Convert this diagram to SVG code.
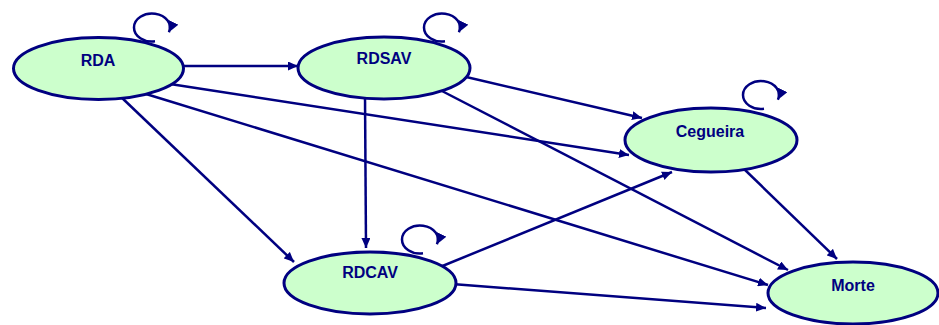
<svg xmlns="http://www.w3.org/2000/svg" width="939" height="325" viewBox="0 0 939 325">
  <style>
    .node { fill: #ccffcc; stroke: #000080; stroke-width: 3; }
    .label { font-family: "Liberation Sans", Arial, sans-serif; font-weight: bold; font-size: 16px; fill: #000080; text-anchor: middle; }
    .edge { fill: none; stroke: #000080; stroke-width: 2.5; marker-end: url(#arrow); }
    .loop { fill: none; stroke: #000080; stroke-width: 2.5; marker-end: url(#loop-arrow); }
  </style>
  <defs>
    <marker id="arrow" markerUnits="userSpaceOnUse" markerWidth="11" markerHeight="9" refX="10" refY="4.5" orient="auto">
      <path d="M0,0 L10,4.5 L0,9 z" fill="#000080"/>
    </marker>
    <marker id="loop-arrow" markerUnits="userSpaceOnUse" markerWidth="12" markerHeight="11" refX="11" refY="5.5" orient="auto">
      <path d="M0,0 L11,5.5 L0,11 z" fill="#000080"/>
    </marker>
  </defs>
  <rect width="939" height="325" fill="#ffffff"/>

  <!-- transitions between states -->
  <g id="connectors">
    <line class="edge" x1="180" y1="66" x2="298" y2="66"/>
    <line class="edge" x1="170" y1="84" x2="629" y2="155"/>
    <line class="edge" x1="146" y1="94" x2="768" y2="285"/>
    <line class="edge" x1="120" y1="96" x2="294" y2="262"/>
    <line class="edge" x1="462" y1="76" x2="642" y2="118"/>
    <line class="edge" x1="440" y1="90" x2="788" y2="270"/>
    <line class="edge" x1="365" y1="96" x2="366" y2="248"/>
    <line class="edge" x1="440" y1="267" x2="672" y2="172"/>
    <line class="edge" x1="452" y1="284" x2="766" y2="308"/>
    <line class="edge" x1="743" y1="168" x2="837" y2="259"/>
    <!-- self-loops -->
    <path class="loop" d="M155,41.3 A18,14 0 1 1 168.9,32.3"/>
    <path class="loop" d="M445,41.3 A18,14 0 1 1 458.9,32.3"/>
    <path class="loop" d="M764,108.8 A18,14 0 1 1 777.9,99.8"/>
    <path class="loop" d="M423,253.3 A18,14 0 1 1 436.9,244.3"/>
  </g>

  <g id="RDA">
    <ellipse class="node" cx="98.5" cy="68.5" rx="85" ry="31"/>
    <text class="label" x="98" y="66">RDA</text>
  </g>
  <g id="RDSAV">
    <ellipse class="node" cx="384" cy="68" rx="86" ry="31"/>
    <text class="label" x="384" y="64">RDSAV</text>
  </g>
  <g id="Cegueira">
    <ellipse class="node" cx="711" cy="140" rx="86" ry="32"/>
    <text class="label" x="710" y="137">Cegueira</text>
  </g>
  <g id="RDCAV">
    <ellipse class="node" cx="370" cy="283" rx="86" ry="31"/>
    <text class="label" x="370" y="278">RDCAV</text>
  </g>
  <g id="Morte">
    <ellipse class="node" cx="853" cy="293" rx="85" ry="31"/>
    <text class="label" x="853" y="291">Morte</text>
  </g>
</svg>
